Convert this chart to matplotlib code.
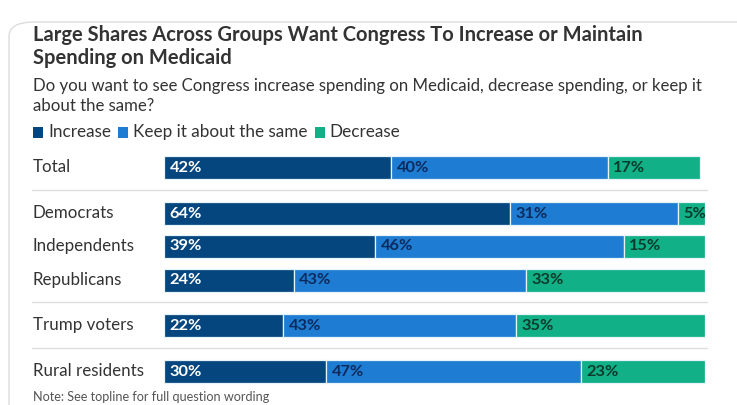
import matplotlib
matplotlib.use("Agg")
import matplotlib.pyplot as plt
from matplotlib.patches import FancyBboxPatch, Rectangle

# ---- data ----
categories = ["Total", "Democrats", "Independents", "Republicans", "Trump voters", "Rural residents"]
series_names = ["Increase", "Keep it about the same", "Decrease"]
increase = [42, 64, 39, 24, 22, 30]
keep_same = [40, 31, 46, 43, 43, 47]
decrease = [17, 5, 15, 33, 35, 23]

title_lines = ["Large Shares Across Groups Want Congress To Increase or Maintain",
               "Spending on Medicaid"]
subtitle_lines = ["Do you want to see Congress increase spending on Medicaid, decrease spending, or keep it",
                  "about the same?"]
note = "Note: See topline for full question wording"

# ---- style ----
colors = ["#06467f", "#1e7dd3", "#12b086"]
label_colors = ["#ffffff", "#0c2b5c", "#0a3b2c"]
FONT = "Lato"
W, H = 737, 405
row_y = [167, 213, 246, 280, 325, 371]       # row centers (pixels from top)
sep_y = [190, 302, 348]
bar_h = 23

fig = plt.figure(figsize=(W / 100, H / 100), dpi=100)
fig.patch.set_facecolor("white")

def fx(px):
    return px / W

def fy(py):
    return 1 - py / H

# card border
card = FancyBboxPatch((fx(9), fy(460)), fx(800), fy(22) - fy(460),
                      boxstyle="round,pad=0,rounding_size=0.035",
                      transform=fig.transFigure, facecolor="white",
                      edgecolor="#dcdcdc", linewidth=1.0, zorder=-10)
fig.add_artist(card)

# axes mapped: x percent 0..100 -> px 164..705, y pixels 0..405 (inverted)
ax = fig.add_axes([fx(164), 0, fx(705) - fx(164), 1])
ax.set_xlim(0, 100)
ax.set_ylim(H, 0)
ax.axis("off")
ax.patch.set_alpha(0)

series = [increase, keep_same, decrease]
lefts = [0] * len(categories)
for si, vals in enumerate(series):
    ax.barh(row_y, vals, left=lefts, height=bar_h, color=colors[si],
            edgecolor="#e6f4f8", linewidth=0.9, zorder=2)
    for yi, (l, v) in enumerate(zip(lefts, vals)):
        ax.text(l + 1.0, row_y[yi] + 0.5, f"{v}%", ha="left", va="center",
                color=label_colors[si], fontsize=11.8, fontweight="bold",
                family=FONT, zorder=3)
    lefts = [l + v for l, v in zip(lefts, vals)]

# separators
for sy in sep_y:
    fig.add_artist(plt.Line2D([fx(32), fx(707)], [fy(sy), fy(sy)],
                              transform=fig.transFigure, color="#dedede", linewidth=1.0))

# category labels
for cat, ry in zip(categories, row_y):
    fig.text(fx(33), fy(ry), cat, ha="left", va="center", fontsize=12.2,
             color="#333333", family=FONT)

# title / subtitle
for line, ty in zip(title_lines, [35, 58]):
    fig.text(fx(33), fy(ty), line, ha="left", va="center", fontsize=14.5,
             fontweight="bold", color="#333333", family=FONT)
for line, ty in zip(subtitle_lines, [86, 106]):
    fig.text(fx(33), fy(ty), line, ha="left", va="center", fontsize=12.1,
             color="#333333", family=FONT)

# legend
lx = 33
for name, c in zip(series_names, colors):
    fig.add_artist(Rectangle((fx(lx), fy(138)), fx(10), fy(127) - fy(138),
                             transform=fig.transFigure, facecolor=c, edgecolor="none"))
    t = fig.text(fx(lx + 15), fy(132), name, ha="left", va="center", fontsize=12.3,
                 color="#333333", family=FONT)
    fig.canvas.draw()
    bb = t.get_window_extent()
    lx = bb.x1 + 7

fig.text(fx(33), fy(397), note, ha="left", va="center", fontsize=9.1,
         color="#555555", family=FONT)

fig.savefig("out.png", dpi=100, facecolor="white")
